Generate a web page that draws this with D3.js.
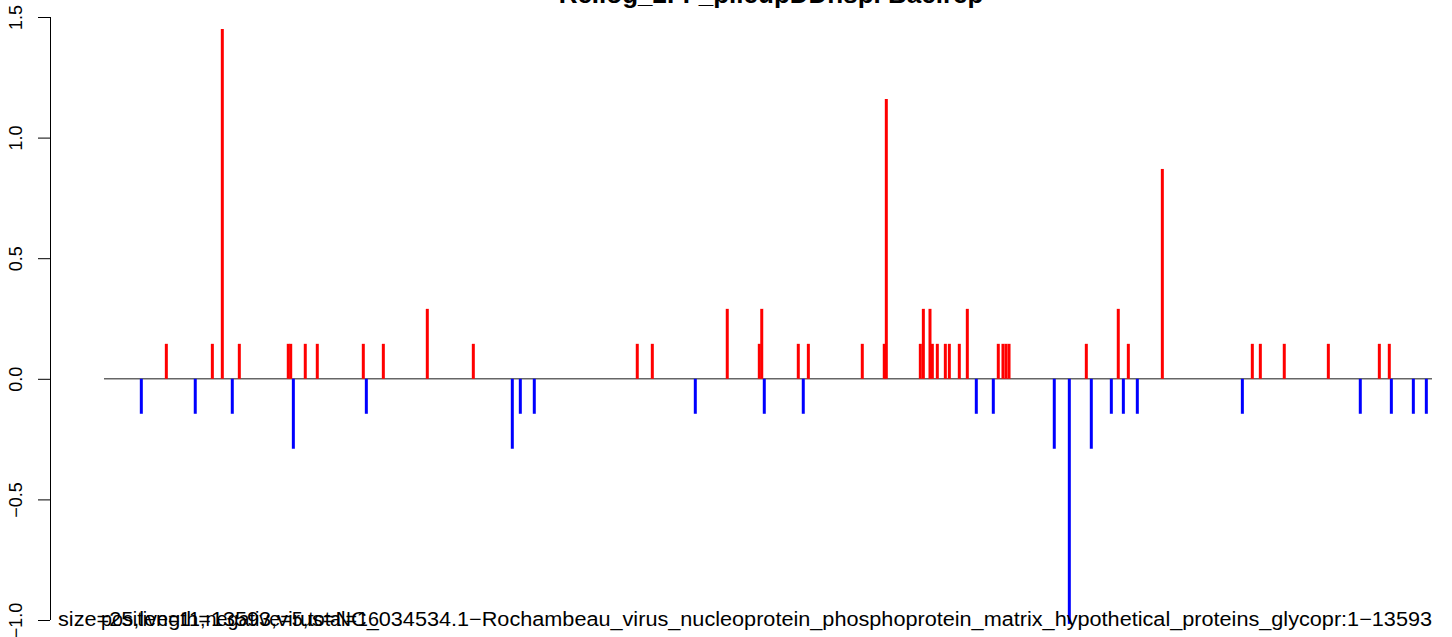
<!DOCTYPE html>
<html>
<head>
<meta charset="utf-8">
<script src="https://cdnjs.cloudflare.com/ajax/libs/d3/7.8.5/d3.min.js"></script>
<style>
  body { margin: 0; background: white; }
  text { font-family: "Liberation Sans", Arial, sans-serif; }
</style>
</head>
<body>
<div id="canvas"><svg id="chart"></svg></div>
<script>
// site positions along the genome (1..13593) and their log values
const posSites = [639, 1110, 1212, 1386, 1887, 1912, 2061, 2184, 2655, 2860, 3310, 3781,
  5459, 5613, 6380, 6708, 6733, 7107, 7210, 7762, 7987, 8008, 8356, 8387, 8455, 8479,
  8530, 8612, 8653, 8755, 8837, 9154, 9202, 9233, 9264, 10055, 10382, 10485, 10833,
  11754, 11836, 12081, 12532, 13054, 13156];
const posValues = [0.145, 0.145, 1.45, 0.145, 0.145, 0.145, 0.145, 0.145, 0.145, 0.145, 0.29, 0.145,
  0.145, 0.145, 0.29, 0.145, 0.29, 0.145, 0.145, 0.145, 0.145, 1.16, 0.145, 0.29, 0.29, 0.145,
  0.145, 0.145, 0.145, 0.145, 0.29, 0.145, 0.145, 0.145, 0.145, 0.145, 0.29, 0.145, 0.87,
  0.145, 0.145, 0.145, 0.145, 0.145, 0.145];
const negSites = [383, 935, 1314, 1939, 2686, 4180, 4262, 4405, 6053, 6759, 7158, 8929,
  9103, 9727, 9881, 10106, 10311, 10434, 10577, 11652, 12859, 13177, 13402, 13535];
const negValues = [-0.145, -0.145, -0.145, -0.29, -0.145, -0.29, -0.145, -0.145, -0.145, -0.145, -0.145, -0.145,
  -0.145, -0.29, -1.016, -0.29, -0.145, -0.145, -0.145, -0.145, -0.145, -0.145, -0.145, -0.145];
const yTicks = [-1.0, -0.5, 0.0, 0.5, 1.0, 1.5];
const genomeLength = 13593;
const title = "Rc.log_2FF_pileupDDnsp. Bacirep";
const subLine = "size=25,length=13593,virus=NC_034534.1\u2212Rochambeau_virus_nucleoprotein_phosphoprotein_matrix_hypothetical_proteins_glycopr:1\u221213593";
const countLine = "positive=11,negative=5,total=16";

const W = 1452, H = 637;
const svg = d3.select("#chart").attr("width", W).attr("height", H)
  .style("background-color", "white");

const x = d3.scaleLinear().domain([1, genomeLength]).range([104, 1432]);
const y = d3.scaleLinear().domain([-1, 1.5]).range([620, 17]);

// baseline
svg.append("line")
  .attr("x1", x(1)).attr("x2", x(genomeLength))
  .attr("y1", y(0)).attr("y2", y(0))
  .attr("stroke", "#666").attr("stroke-width", 1.5);

const pos = posSites.map((s, i) => ({ site: s, v: posValues[i] }));
const neg = negSites.map((s, i) => ({ site: s, v: negValues[i] }));

svg.append("g").selectAll("line")
  .data(pos)
  .join("line")
    .attr("x1", d => x(d.site)).attr("x2", d => x(d.site))
    .attr("y1", y(0)).attr("y2", d => y(d.v))
    .attr("stroke", "#ff0000").attr("stroke-width", 3);

svg.append("g").selectAll("line")
  .data(neg)
  .join("line")
    .attr("x1", d => x(d.site)).attr("x2", d => x(d.site))
    .attr("y1", y(0)).attr("y2", d => y(d.v))
    .attr("stroke", "#0000ff").attr("stroke-width", 3);

// y axis, R style
const yAxis = svg.append("g")
  .attr("transform", "translate(50,0)")
  .call(d3.axisLeft(y).tickValues(yTicks).tickFormat(d3.format(".1f")).tickSize(12).tickSizeOuter(0));
yAxis.select(".domain").attr("stroke", "#000").attr("d", `M0.5,${y(1.5)}V${y(-1)}`);
yAxis.selectAll(".tick line").attr("stroke", "#000");
yAxis.selectAll(".tick text")
  .attr("transform", "rotate(-90)")
  .attr("x", 0).attr("y", -28).attr("dy", 0)
  .style("text-anchor", "middle")
  .style("font-size", "18px")
  .attr("fill", "#000");

// title (cut at the top edge)
svg.append("text")
  .attr("x", 771).attr("y", 3)
  .attr("text-anchor", "middle")
  .style("font-size", "26px").style("font-weight", "bold")
  .text(title);

// bottom notes
svg.append("text")
  .attr("x", 58).attr("y", 626)
  .style("font-size", "20px")
  .attr("textLength", 1374).attr("lengthAdjust", "spacingAndGlyphs")
  .text(subLine);
svg.append("text")
  .attr("x", 101).attr("y", 626)
  .style("font-size", "20px")
  .attr("textLength", 278).attr("lengthAdjust", "spacingAndGlyphs")
  .text(countLine);
</script>
</body>
</html>
